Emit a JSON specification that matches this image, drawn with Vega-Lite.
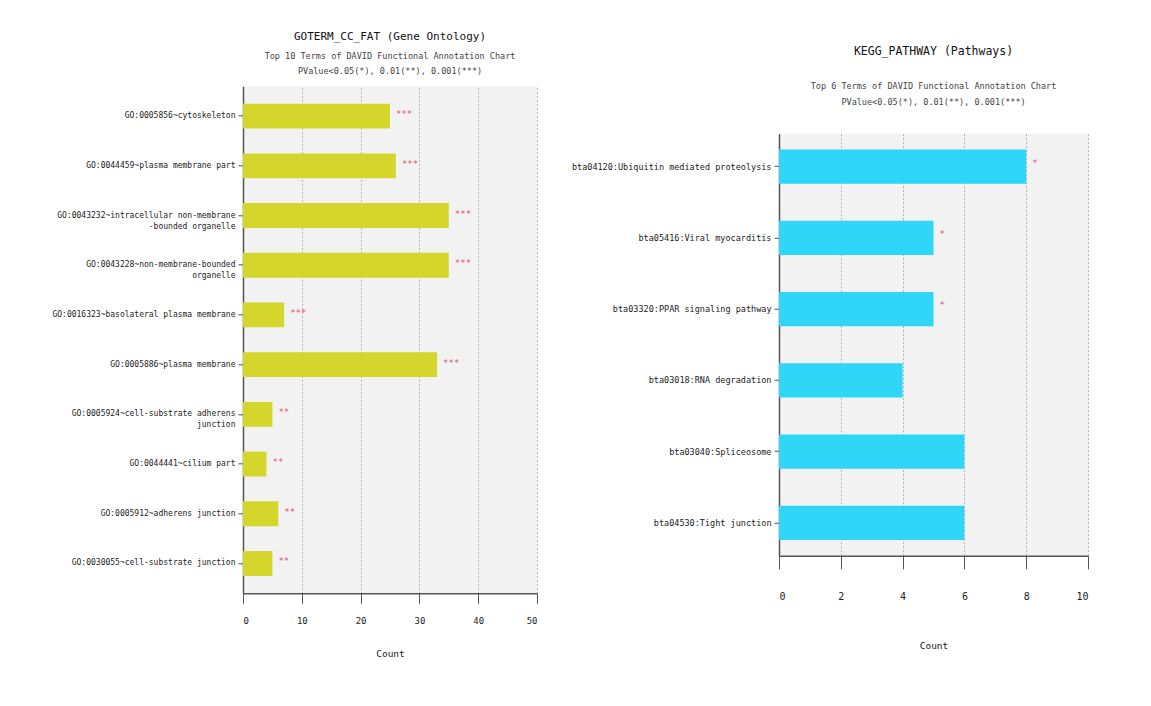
{
  "$schema": "https://vega.github.io/schema/vega-lite/v6.json",
  "background": "white",
  "padding": {"left": 51, "top": 30, "right": 5, "bottom": 0},
  "config": {
    "font": "DejaVu Sans Mono",
    "view": {"fill": "#f2f2f2", "stroke": null},
    "axis": {
      "domainColor": "#555555",
      "domainWidth": 1.5,
      "tickColor": "#555555",
      "labelColor": "#222222",
      "titleColor": "#222222",
      "titleFontWeight": "normal",
      "labelFont": "DejaVu Sans Mono",
      "titleFont": "DejaVu Sans Mono"
    },
    "title": {"font": "DejaVu Sans Mono", "subtitleFont": "DejaVu Sans Mono", "fontWeight": "normal", "color": "#111111", "subtitleColor": "#444444", "anchor": "middle", "frame": "group"}
  },
  "hconcat": [
    {
      "width": 294,
      "height": 507,
      "title": {
        "text": "GOTERM_CC_FAT (Gene Ontology)",
        "subtitle": ["Top 10 Terms of DAVID Functional Annotation Chart", "PValue<0.05(*), 0.01(**), 0.001(***)"],
        "fontSize": 11,
        "subtitleFontSize": 8.5,
        "subtitlePadding": 10,
        "subtitleLineHeight": 15,
        "offset": 11
      },
      "data": {
        "values": [
          {"term": "GO:0005856~cytoskeleton", "count": 25, "sig": "***"},
          {"term": "GO:0044459~plasma membrane part", "count": 26, "sig": "***"},
          {"term": "GO:0043232~intracellular non-membrane|-bounded organelle", "count": 35, "sig": "***"},
          {"term": "GO:0043228~non-membrane-bounded|organelle", "count": 35, "sig": "***"},
          {"term": "GO:0016323~basolateral plasma membrane", "count": 7, "sig": "***"},
          {"term": "GO:0005886~plasma membrane", "count": 33, "sig": "***"},
          {"term": "GO:0005924~cell-substrate adherens|junction", "count": 5, "sig": "**"},
          {"term": "GO:0044441~cilium part", "count": 4, "sig": "**"},
          {"term": "GO:0005912~adherens junction", "count": 6, "sig": "**"},
          {"term": "GO:0030055~cell-substrate junction", "count": 5, "sig": "**"}
        ]
      },
      "encoding": {
        "y": {
          "field": "term",
          "type": "nominal",
          "sort": null,
          "scale": {"paddingInner": 0.5, "paddingOuter": 0.35},
          "axis": {
            "title": null,
            "labelExpr": "split(datum.label, '|')",
            "labelFontSize": 8,
            "labelLimit": 400,
            "labelLineHeight": 11,
            "tickSize": 5,
            "labelPadding": 3,
            "grid": false
          }
        },
        "x": {
          "field": "count",
          "type": "quantitative",
          "scale": {"domain": [0, 50], "nice": false},
          "axis": {
            "title": ["Count", " ", " ", " "],
            "titleLineHeight": 13.3,
            "values": [0, 10, 20, 30, 40, 50],
            "tickSize": 10,
            "labelPadding": 13,
            "labelFontSize": 9,
            "titleFontSize": 9.5,
            "titlePadding": 23,
            "grid": true,
            "gridColor": "#b0b0b0",
            "gridDash": [2, 2],
            "gridWidth": 1
          }
        }
      },
      "layer": [
        {"mark": {"type": "bar", "color": "#d4d62c"}},
        {
          "mark": {"type": "text", "align": "left", "baseline": "middle", "dx": 6, "dy": -2, "color": "#e4506e", "fontSize": 9},
          "encoding": {"text": {"field": "sig"}}
        }
      ]
    },
    {
      "width": 309,
      "height": 422,
      "title": {
        "text": "KEGG_PATHWAY (Pathways)",
        "subtitle": ["Top 6 Terms of DAVID Functional Annotation Chart", "PValue<0.05(*), 0.01(**), 0.001(***)"],
        "fontSize": 11.5,
        "subtitleFontSize": 8.5,
        "subtitlePadding": 25,
        "subtitleLineHeight": 16,
        "offset": 27
      },
      "data": {
        "values": [
          {"term": "bta04120:Ubiquitin mediated proteolysis", "count": 8, "sig": "*"},
          {"term": "bta05416:Viral myocarditis", "count": 5, "sig": "*"},
          {"term": "bta03320:PPAR signaling pathway", "count": 5, "sig": "*"},
          {"term": "bta03018:RNA degradation", "count": 4, "sig": ""},
          {"term": "bta03040:Spliceosome", "count": 6, "sig": ""},
          {"term": "bta04530:Tight junction", "count": 6, "sig": ""}
        ]
      },
      "encoding": {
        "y": {
          "field": "term",
          "type": "nominal",
          "sort": null,
          "scale": {"paddingInner": 0.52, "paddingOuter": 0.22},
          "axis": {
            "title": null,
            "labelFontSize": 8.5,
            "labelLimit": 400,
            "tickSize": 5,
            "labelPadding": 3,
            "grid": false
          }
        },
        "x": {
          "field": "count",
          "type": "quantitative",
          "scale": {"domain": [0, 10], "nice": false},
          "axis": {
            "title": "Count",
            "values": [0, 2, 4, 6, 8, 10],
            "tickSize": 13,
            "labelPadding": 23,
            "labelFontSize": 10,
            "titleFontSize": 9.5,
            "titlePadding": 39,
            "grid": true,
            "gridColor": "#b0b0b0",
            "gridDash": [2, 2],
            "gridWidth": 1
          }
        }
      },
      "layer": [
        {"mark": {"type": "bar", "color": "#2fd6f8"}},
        {
          "mark": {"type": "text", "align": "left", "baseline": "middle", "dx": 6, "dy": -4, "color": "#e4506e", "fontSize": 9},
          "encoding": {"text": {"field": "sig"}}
        }
      ]
    }
  ],
  "spacing": 33,
  "center": true
}
